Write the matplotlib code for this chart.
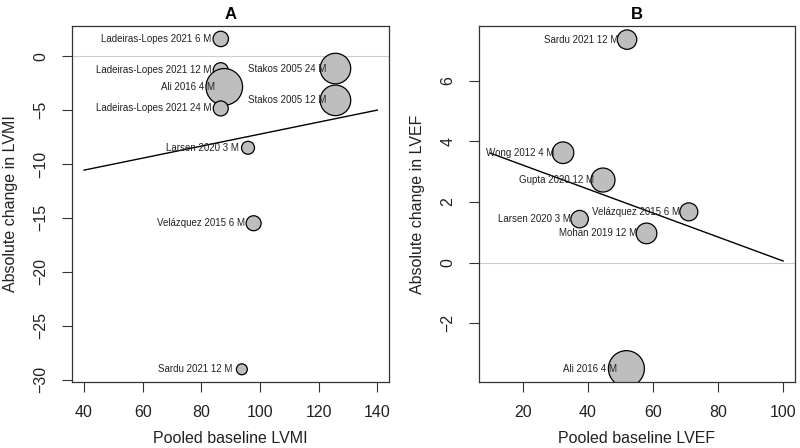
import numpy as np
import matplotlib
matplotlib.use('Agg')
import matplotlib.pyplot as plt

plt.rcParams['font.family'] = ['Liberation Sans', 'DejaVu Sans']

# Panel A: LVMI meta-regression
lvmi_labels = ["Ladeiras-Lopes 2021 6 M", "Ladeiras-Lopes 2021 12 M", "Ali 2016 4 M",
               "Ladeiras-Lopes 2021 24 M", "Stakos 2005 24 M", "Stakos 2005 12 M",
               "Larsen 2020 3 M", "Velázquez 2015 6 M", "Sardu 2021 12 M"]
lvmi_baseline = [86.6, 86.6, 87.8, 86.6, 125.7, 125.7, 95.9, 97.8, 93.8]
lvmi_change = [1.6, -1.3, -2.85, -4.85, -1.15, -4.1, -8.5, -15.5, -29.05]
lvmi_weight = [5.4, 5.1, 30.4, 5.1, 21.2, 21.2, 3.8, 5.1, 2.7]
lvmi_fit = (-12.8, 0.0557)   # intercept, slope
lvmi_fit_range = (40, 140)

# Panel B: LVEF meta-regression
lvef_labels = ["Sardu 2021 12 M", "Wong 2012 4 M", "Gupta 2020 12 M", "Velázquez 2015 6 M",
               "Larsen 2020 3 M", "Mohan 2019 12 M", "Ali 2016 4 M"]
lvef_baseline = [52.0, 32.3, 44.6, 71.0, 37.4, 58.0, 51.8]
lvef_change = [7.35, 3.62, 2.72, 1.67, 1.43, 0.96, -3.5]
lvef_weight = [10.0, 12.4, 15.3, 8.6, 8.1, 11.3, 34.4]
lvef_fit = (4.0, -0.0395)
lvef_fit_range = (10, 100)

fig = plt.figure(figsize=(8, 4.48), dpi=100)
ax_a = fig.add_axes([0.0904, 0.148, 0.396, 0.794])
ax_b = fig.add_axes([0.5985, 0.148, 0.395, 0.794])

text_col = '#222222'


def bubble_panel(ax, x, y, w, labels, fit, fit_range, scale, title, xlabel, ylabel):
    ax.axhline(0, color='#cccccc', lw=0.8, zorder=0)
    xs = np.array(fit_range, dtype=float)
    ax.plot(xs, fit[0] + fit[1] * xs, color='black', lw=1.0, zorder=1)
    # radius in pixels ~ sqrt(weight); convert to points^2 for scatter
    r_px = np.sqrt(np.array(w) * scale)
    sizes = (2 * r_px * 0.72) ** 2
    ax.scatter(x, y, s=sizes, facecolor='#bebebe', edgecolor='black', linewidth=0.9, zorder=2)
    for xi, yi, lab in zip(x, y, labels):
        ax.annotate(lab, xy=(xi, yi), xytext=(-6.5, 0), textcoords='offset points',
                    ha='right', va='center', fontsize=7, color=text_col, zorder=3)
    ax.set_title(title, fontsize=12, weight='bold', pad=5)
    ax.set_xlabel(xlabel, fontsize=11.5, color=text_col, labelpad=8)
    ax.set_ylabel(ylabel, fontsize=11.5, color=text_col, labelpad=11)
    ax.tick_params(length=7, width=0.8, pad=10, labelsize=11.5, labelcolor=text_col, color='#333333')
    for lab in ax.get_yticklabels():
        lab.set_rotation(90)
        lab.set_va('center')
    for sp in ax.spines.values():
        sp.set_color('#333333')
        sp.set_linewidth(0.9)


ax_a.set_xlim(36, 144)
ax_a.set_ylim(-30.2, 2.8)
ax_a.set_xticks([40, 60, 80, 100, 120, 140])
ax_a.set_yticks([0, -5, -10, -15, -20, -25, -30])
ax_a.set_yticklabels(['0', '\u22125', '\u221210', '\u221215', '\u221220', '\u221225', '\u221230'])
bubble_panel(ax_a, lvmi_baseline, lvmi_change, lvmi_weight, lvmi_labels, lvmi_fit,
             lvmi_fit_range, 11.02, 'A', 'Pooled baseline LVMI', 'Absolute change in LVMI')

ax_b.set_xlim(6.4, 103.6)
ax_b.set_ylim(-3.93, 7.8)
ax_b.set_xticks([20, 40, 60, 80, 100])
ax_b.set_yticks([-2, 0, 2, 4, 6])
ax_b.set_yticklabels(['\u22122', '0', '2', '4', '6'])
bubble_panel(ax_b, lvef_baseline, lvef_change, lvef_weight, lvef_labels, lvef_fit,
             lvef_fit_range, 9.42, 'B', 'Pooled baseline LVEF', 'Absolute change in LVEF')

fig.savefig('out.png', dpi=100)
